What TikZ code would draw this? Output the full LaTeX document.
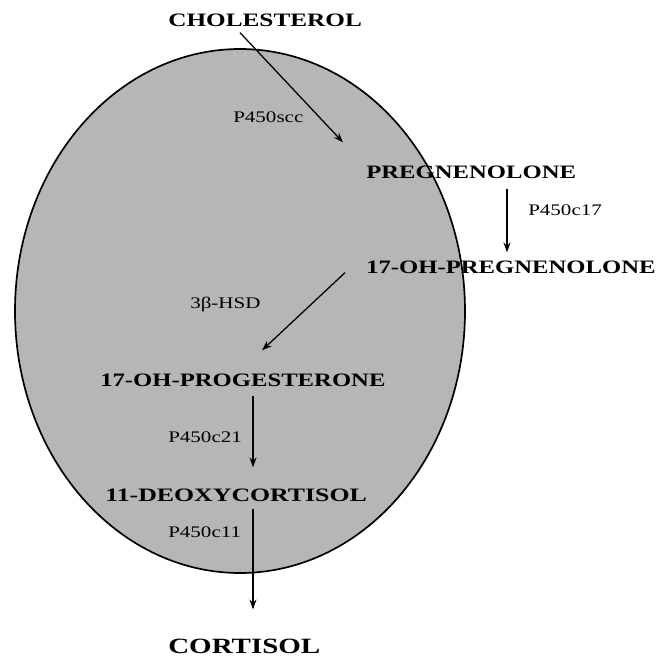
\documentclass[tikz,border=0pt]{standalone}
\usepackage{fontspec}
\setmainfont{Liberation Serif}
\usepackage{tikz}
\usetikzlibrary{calc,arrows.meta}
\definecolor{cellgray}{RGB}{182,182,182}

\newcommand{\wide}[2][1.3]{\scalebox{#1}[1]{#2}}

\begin{document}
\begin{tikzpicture}[x=0.025cm, y=-0.025cm,
  chem/.style={anchor=west, inner sep=0pt, font=\bfseries\fontsize{13.5}{16}\selectfont},
  enz/.style={anchor=west, inner sep=0pt, font=\fontsize{11.5}{14}\selectfont},
  arr/.style={-{Stealth[length=7pt, width=5pt]}, line width=0.9pt}]
  \useasboundingbox (0,0) rectangle (658,657);

  % Cell
  \draw[fill=cellgray, line width=1.2pt] (240,311) ellipse [x radius=225, y radius=262];

  % Steroids
  \node[chem] (chol)   at (168,20)  {\wide[1.33]{CHOLESTEROL}};
  \node[chem] (preg)   at (366,172) {\wide{PREGNENOLONE}};
  \node[chem] (ohpreg) at (366,267) {\wide{17-OH-PREGNENOLONE}};
  \node[chem] (ohprog) at (100,380) {\wide{17-OH-PROGESTERONE}};
  \node[chem] (deoxy)  at (105,495) {\wide[1.36]{11-DEOXYCORTISOL}};
  \node[chem, font=\bfseries\fontsize{15.5}{18}\selectfont] (cort) at (168,646) {\wide[1.33]{CORTISOL}};

  % Enzymes
  \node[enz] (scc) at (233,117) {\wide{P450scc}};
  \node[enz] (c17) at (528,210) {\wide{P450c17}};
  \node[enz] (hsd) at (190,305) {\wide{3β-HSD}};
  \node[enz] (c21) at (168,437) {\wide{P450c21}};
  \node[enz] (c11) at (168,532) {\wide{P450c11}};

  % Reactions
  \draw[arr] ($(chol.south west)+(72,6)$) -- ($(preg.north west)+(-23,-23)$);
  \draw[arr] ($(preg.south west)+(141,10)$) -- ($(ohpreg.north west)+(141,-8)$);
  \draw[arr] ($(ohpreg.south west)+(-21,-1)$) -- ($(ohprog.north west)+(162,-23)$);
  \draw[arr] ($(ohprog.south west)+(153,9)$) -- ($(deoxy.north west)+(148,-21)$);
  \draw[arr] ($(deoxy.south west)+(148,7)$) -- ($(cort.north west)+(85,-29)$);
\end{tikzpicture}
\end{document}
